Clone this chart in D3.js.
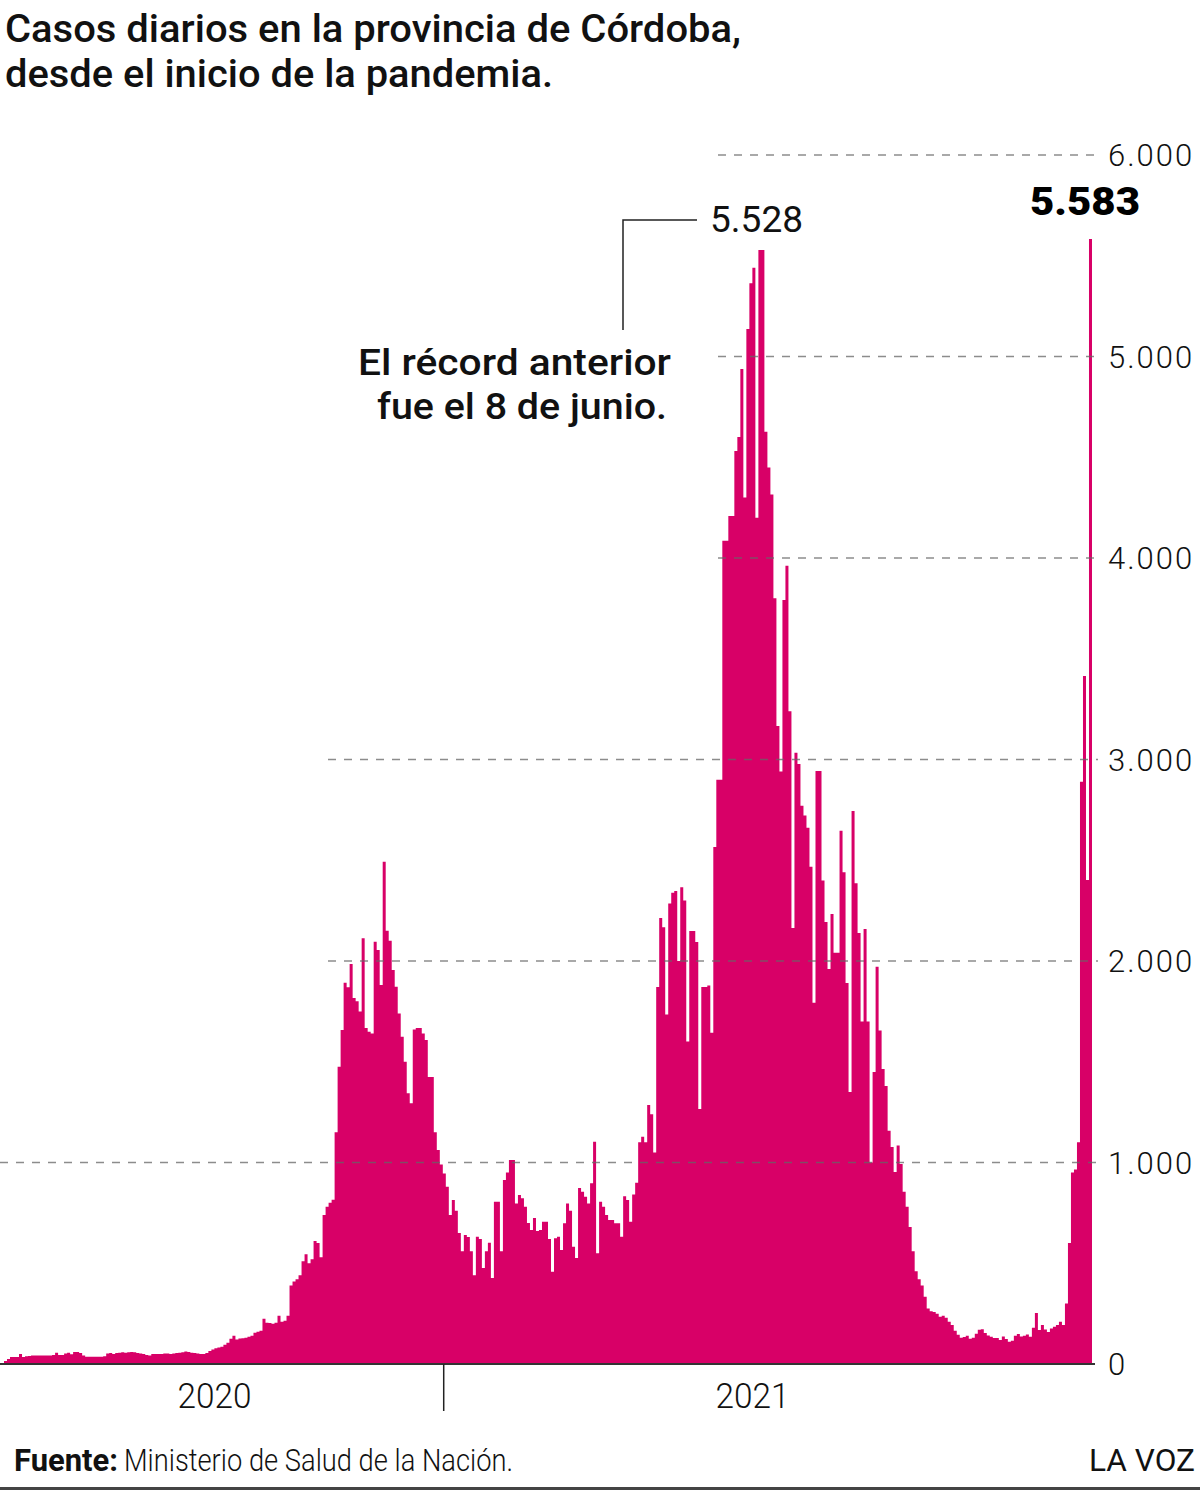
<!DOCTYPE html>
<html>
<head>
<meta charset="utf-8">
<script src="https://cdn.jsdelivr.net/npm/d3@7"></script>
<style>
  body { margin: 0; background: #fff; }
  svg { display: block; }
</style>
</head>
<body>
<div id="chart"></div>
<script>
/*** DATOS: casos diarios (cada valor ~ un tramo de 3px) ***/
const casos = [
  15,25,35,35,35,50,35,38,40,42,
  42,42,42,42,42,42,45,56,45,45,
  52,56,48,60,60,55,42,36,36,36,
  36,36,36,38,52,55,50,55,56,58,
  56,58,60,58,55,52,50,45,42,50,
  50,50,50,52,52,50,52,54,56,58,
  62,60,56,54,52,50,50,55,65,72,
  78,82,85,95,105,125,140,122,126,128,
  130,135,140,155,160,165,225,205,203,200,
  205,240,210,215,240,390,410,420,440,510,
  545,500,520,610,600,530,740,780,800,815,
  1150,1475,1657,1892,1870,1985,1816,1800,1749,2113,
  1667,1649,1640,2096,2055,1881,2493,2150,2100,1955,
  1872,1740,1624,1500,1344,1294,1660,1667,1667,1640,
  1608,1424,1424,1150,1062,990,946,880,740,814,
  760,650,560,640,630,560,440,632,620,476,
  560,602,427,805,805,560,913,950,1012,1012,
  797,839,823,781,700,665,724,660,665,706,
  706,620,458,624,632,566,698,797,760,582,
  526,873,855,830,797,897,1103,550,805,781,
  740,715,715,698,698,632,833,814,706,841,
  900,1100,1128,1101,1285,1240,1050,1871,2213,2168,
  1734,2285,2339,2348,2000,2366,2300,1600,2149,2149,
  2094,1265,1871,1871,1878,1644,2566,2900,2900,4085,
  4085,4208,4208,4531,4600,4938,4300,5136,5363,5440,
  4200,5528,5528,4626,4449,4315,3800,3166,2940,3792,
  3962,3240,2164,3033,2978,2771,2722,2661,2468,1793,
  2943,2943,2399,2193,1960,2233,2041,2041,2647,2441,
  1891,1350,2744,2386,2139,1700,2159,1700,1000,1449,
  1972,1655,1464,1380,1158,1077,953,1084,993,855,
  780,680,560,460,420,390,334,275,262,258,
  250,235,240,230,210,194,165,145,130,134,
  140,125,130,150,170,173,154,141,135,129,
  129,119,136,124,111,116,140,149,136,140,
  146,135,180,253,169,194,171,159,176,185,
  194,210,194,300,600,950,965,1100,2889,3414,
  2402,5583
];

// eje Y
const ticksY = [0, 1000, 2000, 3000, 4000, 5000, 6000];

// eje X: años (posicion en indice de la serie)
const anios = ["2020", "2021"];
const anioCentro = [70, 249];
const corteAnio = [146.3];

// anotaciones
const recordAnterior = 5528;
const recordNuevo = 5583;
const textoRecord = ["El récord anterior", "fue el 8 de junio."];

const titulo = ["Casos diarios en la provincia de Córdoba,", "desde el inicio de la pandemia."];
const fuente = ["Fuente:", "Ministerio de Salud de la Nación."];
const marca = "LA VOZ";

/*** DIBUJO ***/
var width = 1200;
var height = 1491;
var rosa = "#d80067";
var fuenteTxt = "Roboto, 'Liberation Sans', sans-serif";

// donde empieza cada linea punteada (para no pisar los textos)
var inicioGrid = { 1000: 0, 2000: 328, 3000: 328, 4000: 718, 5000: 718, 6000: 718 };
var finGrid = 1098;

var loc = d3.formatLocale({ decimal: ",", thousands: ".", grouping: [3], currency: ["$", ""] });
var fmt = loc.format(",");

var N = casos.length;
var x = d3.scaleLinear().domain([0, N]).range([4, 1092]);
var y = d3.scaleLinear().domain([0, 6000]).range([1364, 155]);

var svg = d3.select('#chart').append('svg')
  .attr('width', width)
  .attr('height', height);

svg.append('rect').attr('width', width).attr('height', height).attr('fill', '#fff');

// titulo
svg.selectAll('text.titulo')
  .data(titulo)
  .enter()
  .append('text')
  .attr('class', 'titulo')
  .attr('x', 5)
  .attr('y', (d, i) => 42 + i * 45)
  .attr('font-family', fuenteTxt)
  .attr('font-size', 38)
  .attr('font-weight', 500)
  .attr('fill', '#111')
  .attr('textLength', (d, i) => i == 0 ? 736 : 548)
  .attr('lengthAdjust', 'spacingAndGlyphs')
  .text(d => d);

// barras (escalon por dia)
var area = d3.area()
  .x((d, i) => x(i))
  .y0(y(0))
  .y1(d => y(d))
  .curve(d3.curveStepAfter);

svg.append('path')
  .datum(casos.concat([casos[N - 1]]))
  .attr('d', area)
  .attr('fill', rosa);

// lineas punteadas (encima de las barras)
svg.selectAll('line.grid')
  .data(ticksY.filter(d => d > 0))
  .enter()
  .append('line')
  .attr('class', 'grid')
  .attr('x1', d => inicioGrid[d])
  .attr('x2', finGrid)
  .attr('y1', d => y(d))
  .attr('y2', d => y(d))
  .attr('stroke', '#666')
  .attr('stroke-opacity', 0.75)
  .attr('stroke-width', 1.4)
  .attr('stroke-dasharray', '8,8');

// linea base
svg.append('line')
  .attr('x1', 0).attr('x2', 1095)
  .attr('y1', y(0)).attr('y2', y(0))
  .attr('stroke', '#333')
  .attr('stroke-width', 2);

// etiquetas eje Y
svg.selectAll('text.ytick')
  .data(ticksY)
  .enter()
  .append('text')
  .attr('class', 'ytick')
  .attr('x', 1108)
  .attr('y', d => y(d))
  .attr('dy', '0.36em')
  .attr('font-family', fuenteTxt)
  .attr('font-size', 31)
  .attr('font-weight', 300)
  .attr('letter-spacing', 2)
  .attr('fill', '#111')
  .text(d => fmt(d));

// separador de años
svg.selectAll('line.corte')
  .data(corteAnio)
  .enter()
  .append('line')
  .attr('class', 'corte')
  .attr('x1', d => x(d)).attr('x2', d => x(d))
  .attr('y1', y(0)).attr('y2', y(0) + 47)
  .attr('stroke', '#222')
  .attr('stroke-width', 1.5);

svg.selectAll('text.anio')
  .data(anios)
  .enter()
  .append('text')
  .attr('class', 'anio')
  .attr('x', (d, i) => x(anioCentro[i]))
  .attr('y', 1408)
  .attr('text-anchor', 'middle')
  .attr('font-family', fuenteTxt)
  .attr('font-size', 35)
  .attr('font-weight', 300)
  .attr('fill', '#111')
  .attr('textLength', 74)
  .attr('lengthAdjust', 'spacingAndGlyphs')
  .text(d => d);

// anotacion record anterior
var iRec = casos.indexOf(recordAnterior);
svg.append('path')
  .attr('d', 'M623,330 V220 H697')
  .attr('fill', 'none')
  .attr('stroke', '#222')
  .attr('stroke-width', 1.5);

svg.append('text')
  .attr('x', 710)
  .attr('y', 232)
  .attr('font-family', fuenteTxt)
  .attr('font-size', 36)
  .attr('font-weight', 400)
  .attr('fill', '#111')
  .attr('textLength', 93)
  .attr('lengthAdjust', 'spacingAndGlyphs')
  .text(fmt(casos[iRec]));

svg.selectAll('text.nota')
  .data(textoRecord)
  .enter()
  .append('text')
  .attr('class', 'nota')
  .attr('x', (d, i) => i == 0 ? 671 : 667)
  .attr('y', (d, i) => 375 + i * 44)
  .attr('text-anchor', 'end')
  .attr('font-family', fuenteTxt)
  .attr('font-size', 36)
  .attr('font-weight', 500)
  .attr('fill', '#111')
  .attr('textLength', (d, i) => i == 0 ? 313 : 290)
  .attr('lengthAdjust', 'spacingAndGlyphs')
  .text(d => d);

// record nuevo
svg.append('text')
  .attr('x', 1140)
  .attr('y', 215)
  .attr('text-anchor', 'end')
  .attr('font-family', fuenteTxt)
  .attr('font-size', 39)
  .attr('font-weight', 900)
  .attr('fill', '#000')
  .attr('textLength', 110)
  .attr('lengthAdjust', 'spacingAndGlyphs')
  .text(fmt(recordNuevo));

// pie
svg.append('text')
  .attr('x', 14).attr('y', 1471)
  .attr('font-family', fuenteTxt)
  .attr('font-size', 32)
  .attr('font-weight', 700)
  .attr('fill', '#111')
  .attr('textLength', 104)
  .attr('lengthAdjust', 'spacingAndGlyphs')
  .text(fuente[0]);

svg.append('text')
  .attr('x', 124).attr('y', 1471)
  .attr('font-family', fuenteTxt)
  .attr('font-size', 32)
  .attr('font-weight', 300)
  .attr('fill', '#111')
  .attr('textLength', 389)
  .attr('lengthAdjust', 'spacingAndGlyphs')
  .text(fuente[1]);

svg.append('text')
  .attr('x', 1195).attr('y', 1471)
  .attr('text-anchor', 'end')
  .attr('font-family', fuenteTxt)
  .attr('font-size', 32)
  .attr('font-weight', 400)
  .attr('fill', '#111')
  .attr('textLength', 106)
  .attr('lengthAdjust', 'spacingAndGlyphs')
  .text(marca);

svg.append('rect')
  .attr('x', 0).attr('y', 1487)
  .attr('width', width).attr('height', 3)
  .attr('fill', '#444');
</script>
</body>
</html>
